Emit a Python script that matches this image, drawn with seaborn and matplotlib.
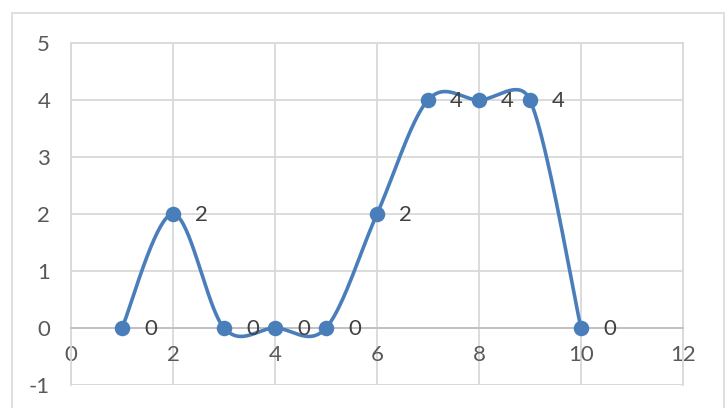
import numpy as np
import pandas as pd
import matplotlib
matplotlib.use("Agg")
import matplotlib.pyplot as plt
import seaborn as sns
from matplotlib.patches import Rectangle

# data
x_vals = [1, 2, 3, 4, 5, 6, 7, 8, 9, 10]
y_vals = [0, 2, 0, 0, 0, 2, 4, 4, 4, 0]
x_ticks = [0, 2, 4, 6, 8, 10, 12]
y_ticks = [-1, 0, 1, 2, 3, 4, 5]

LINE_BLUE = "#4A7EBB"
GRID = "#D9D9D9"
TEXT = "#595959"

# plot area in pixels (726x408 canvas)
PX_LEFT, PX_RIGHT, PX_TOP, PX_BOTTOM = 71, 683, 43, 385


def smooth_curve(xs, ys, kx, ky, n=40):
    """Excel-like smoothed line: cubic Bezier with 1/6 tangents,
    clamped to half the segment length (measured in pixels)."""
    pts = np.column_stack([xs, ys]).astype(float)
    scale = np.array([kx, ky])

    def dist(a, b):
        return np.hypot(*((a - b) * scale))

    out = [pts[0]]
    t = np.linspace(0, 1, n)[1:, None]
    for i in range(len(pts) - 1):
        p0 = pts[max(i - 1, 0)]
        p1 = pts[i]
        p2 = pts[i + 1]
        p3 = pts[min(i + 2, len(pts) - 1)]
        d12 = dist(p1, p2)
        d02 = dist(p0, p2)
        d13 = dist(p1, p3)
        f0 = 1 / 6 if d02 / 6 < d12 / 2 else d12 / (2 * d02)
        f1 = 1 / 6 if d13 / 6 < d12 / 2 else d12 / (2 * d13)
        c1 = p1 + (p2 - p0) * f0
        c2 = p2 - (p3 - p1) * f1
        seg = ((1 - t) ** 3) * p1 + 3 * ((1 - t) ** 2) * t * c1 + 3 * (1 - t) * t ** 2 * c2 + t ** 3 * p2
        out.extend(seg)
    out = np.array(out)
    return out[:, 0], out[:, 1]


df = pd.DataFrame({"x": x_vals, "y": y_vals})
kx = (PX_RIGHT - PX_LEFT) / (x_ticks[-1] - x_ticks[0])
ky = (PX_BOTTOM - PX_TOP) / (y_ticks[-1] - y_ticks[0])
sx, sy = smooth_curve(df["x"].values, df["y"].values, kx, ky)
curve = pd.DataFrame({"x": sx, "y": sy})

sns.set_style("white")
plt.rcParams["font.family"] = ["Lato", "DejaVu Sans"]
plt.rcParams["axes.unicode_minus"] = False

fig = plt.figure(figsize=(7.26, 4.08), dpi=100)
ax = fig.add_axes([PX_LEFT / 726, 1 - PX_BOTTOM / 408,
                   (PX_RIGHT - PX_LEFT) / 726, (PX_BOTTOM - PX_TOP) / 408])

# chart area border
fig.patches.append(Rectangle((12 / 726, -0.01), (724 - 12) / 726, 1 - 13 / 408 + 0.01,
                             transform=fig.transFigure, fill=False,
                             edgecolor=GRID, linewidth=1.2, zorder=0))

sns.lineplot(data=curve, x="x", y="y", sort=False, ax=ax, color=LINE_BLUE,
             linewidth=2.6, zorder=3)
sns.scatterplot(data=df, x="x", y="y", ax=ax, color=LINE_BLUE, s=125,
                edgecolor=LINE_BLUE, linewidth=0, zorder=4)

for xv, yv in zip(df["x"], df["y"]):
    ax.annotate(f"{yv}", (xv, yv), xytext=(16, -1), textcoords="offset points",
                ha="left", va="center", fontsize=16, color="#404040", zorder=5)

ax.set_xlim(0, 12)
ax.set_ylim(-1, 5)
ax.set_xticks(x_ticks)
ax.set_yticks(y_ticks)
ax.grid(True, color=GRID, linewidth=1.3)
ax.set_axisbelow(True)

for side in ["top", "right", "left"]:
    ax.spines[side].set_color(GRID)
    ax.spines[side].set_linewidth(1.3)
ax.spines["bottom"].set_position(("data", 0))
ax.spines["bottom"].set_color("#BFBFBF")
ax.spines["bottom"].set_linewidth(1.3)
ax.axhline(-1, color=GRID, linewidth=1.3, zorder=0)

ax.tick_params(axis="both", length=0, labelsize=16, labelcolor=TEXT)
ax.tick_params(axis="x", pad=12)
ax.tick_params(axis="y", pad=15)
ax.set_xlabel("")
ax.set_ylabel("")

fig.savefig("out.png", dpi=100)
